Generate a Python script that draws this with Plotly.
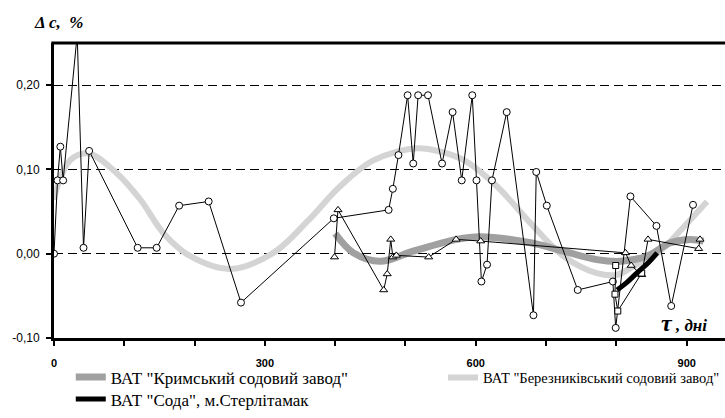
import plotly.graph_objects as go

# measured points (circles) - Berezniki
days_circ = [0, 5, 9, 13, 33, 42, 50, 119, 146, 178, 220, 266, 398, 476, 482, 490, 503, 511, 518, 532,
             552, 567, 580, 595, 601, 608, 616, 623, 644, 682, 686, 701, 745, 795, 799, 820, 857, 878, 909]
vals_circ = [0.000, 0.087, 0.127, 0.087, 0.26, 0.007, 0.122, 0.007, 0.007, 0.057, 0.062, -0.058, 0.042,
             0.052, 0.077, 0.117, 0.188, 0.107, 0.188, 0.188, 0.107, 0.168, 0.087, 0.188, 0.087, -0.033,
             -0.013, 0.087, 0.168, -0.073, 0.097, 0.057, -0.043, -0.033, -0.088, 0.068, 0.033, -0.062, 0.058]

# measured points (triangles) - Crimea
days_tri = [399, 404, 469, 474, 479, 482, 487, 533, 572, 607, 813, 821, 836, 845, 917, 919]
vals_tri = [-0.004, 0.052, -0.043, -0.024, 0.017, -0.004, -0.002, -0.004, 0.017, 0.015, 0.001, -0.014,
            -0.025, 0.017, 0.006, 0.017]

# measured points (squares) - Sterlitamak
days_sq = [799, 798, 802, 836]
vals_sq = [-0.014, -0.048, -0.068, -0.023]

# trend curves
days_ber = [0, 4, 23, 49, 90, 123, 156, 194, 251, 312, 360, 407, 455, 516, 550, 583, 630, 678, 725, 772,
            801, 824, 862, 896, 929]
vals_ber = [0.064, 0.078, 0.111, 0.119, 0.095, 0.064, 0.024, -0.003, -0.018, 0.001, 0.038, 0.080, 0.111,
            0.125, 0.121, 0.111, 0.080, 0.036, -0.003, -0.023, -0.025, -0.015, 0.003, 0.032, 0.062]

days_krym = [400, 426, 464, 511, 573, 606, 678, 725, 772, 806, 843, 877, 905, 924]
vals_krym = [0.024, 0.001, -0.009, 0.003, 0.017, 0.020, 0.013, 0.003, -0.007, -0.009, -0.003, 0.013,
             0.017, 0.015]

days_soda = [801, 815, 829, 845, 858]
vals_soda = [-0.043, -0.034, -0.023, -0.011, 0.001]

name_krym = 'ВАТ "Кримський содовий завод"'
name_ber = 'ВАТ "Березниківський содовий завод"'
name_soda = 'ВАТ "Сода", м.Стерлітамак'

x_ticks = list(range(0, 1000, 100))
x_labels = ['0', '', '', '300', '', '', '600', '', '', '900']
y_ticks = [-0.10, 0.00, 0.10, 0.20]
y_labels = ['-0,10', '0,00', '0,10', '0,20']

fig = go.Figure()

fig.add_trace(go.Scatter(x=days_ber, y=vals_ber, mode='lines', name=name_ber,
                         line=dict(color='#d4d4d4', width=6, shape='spline', smoothing=1),
                         legend='legend2'))
fig.add_trace(go.Scatter(x=days_krym, y=vals_krym, mode='lines', name=name_krym,
                         line=dict(color='#a0a0a0', width=7, shape='spline', smoothing=1),
                         legend='legend'))

marker_common = dict(color='white', size=7, line=dict(color='black', width=1))
fig.add_trace(go.Scatter(x=days_circ, y=vals_circ, mode='lines+markers', showlegend=False,
                         line=dict(color='black', width=1),
                         marker=dict(symbol='circle', **marker_common)))
fig.add_trace(go.Scatter(x=days_tri, y=vals_tri, mode='lines+markers', showlegend=False,
                         line=dict(color='black', width=1),
                         marker=dict(symbol='triangle-up', **marker_common)))
fig.add_trace(go.Scatter(x=days_sq, y=vals_sq, mode='lines+markers', showlegend=False,
                         line=dict(color='black', width=1),
                         marker=dict(symbol='square', color='white', size=6,
                                     line=dict(color='black', width=1))))
fig.add_trace(go.Scatter(x=days_soda, y=vals_soda, mode='lines', name=name_soda,
                         line=dict(color='black', width=5, shape='spline', smoothing=1),
                         legend='legend3'))

leg_font = dict(family='Liberation Serif', size=17, color='black')
fig.update_layout(
    width=725, height=418,
    margin=dict(l=54, r=0, t=43, b=80, autoexpand=False),
    paper_bgcolor='white', plot_bgcolor='white',
    font=dict(family='Liberation Sans', color='black'),
    xaxis=dict(range=[0, 954.5], tickvals=x_ticks, ticktext=x_labels, ticks='outside', ticklen=5,
               tickwidth=1.5, tickcolor='black', showline=True, linecolor='black', linewidth=3,
               showgrid=False, zeroline=False, ticklabelstandoff=8,
               tickfont=dict(family='Liberation Sans', size=11, weight='bold', color='black')),
    yaxis=dict(range=[-0.10, 0.25], tickvals=y_ticks, ticktext=y_labels, ticks='outside', ticklen=5,
               tickwidth=1.5, tickcolor='black', showline=True, linecolor='black', linewidth=3,
               showgrid=True, gridcolor='black', gridwidth=1, griddash='9px,5px', zeroline=False,
               ticklabelstandoff=4,
               tickfont=dict(family='Liberation Sans', size=12, color='black')),
    legend=dict(x=0.025, xanchor='left', y=-0.134, yanchor='middle', orientation='v',
                font=leg_font, bgcolor='rgba(0,0,0,0)'),
    legend2=dict(x=1.0, xanchor='right', y=-0.134, yanchor='middle', orientation='v',
                 font=dict(family='Liberation Serif', size=14.5, color='black'),
                 bgcolor='rgba(0,0,0,0)'),
    legend3=dict(x=0.025, xanchor='left', y=-0.208, yanchor='middle', orientation='v',
                 font=leg_font, bgcolor='rgba(0,0,0,0)'),
    shapes=[dict(type='line', xref='paper', yref='paper', x0=-0.004, x1=1, y0=1, y1=1,
                 line=dict(color='black', width=3))],
    annotations=[
        dict(text='<b><i>Δ c,  %</i></b>', xref='paper', yref='paper', x=-0.033, y=1.07,
             xanchor='left', yanchor='middle', showarrow=False,
             font=dict(family='Liberation Serif', size=17, color='black')),
        dict(text='<b><i><span style="font-size:24px">τ</span> , дні</i></b>', xref='paper', yref='paper',
             x=0.9016, y=0.05, xanchor='left', yanchor='middle', showarrow=False,
             font=dict(family='Liberation Serif', size=17, color='black')),
    ],
)

fig.write_html("out.html")
